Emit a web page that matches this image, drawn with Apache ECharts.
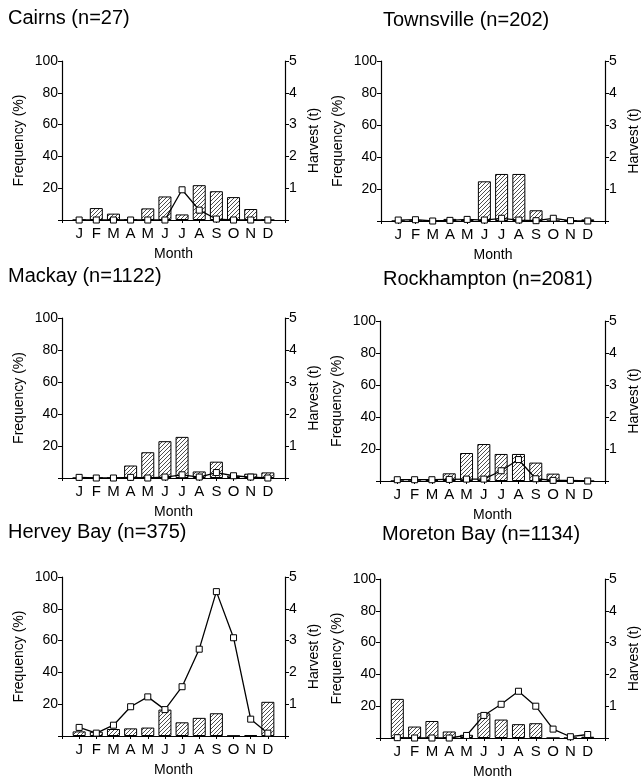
<!DOCTYPE html>
<html>
<head>
<meta charset="utf-8">
<script src="https://cdn.jsdelivr.net/npm/echarts@6/dist/echarts.min.js"></script>
<style>
html,body{margin:0;padding:0;background:#fff;}
#chart{width:643px;height:780px;}
</style>
</head>
<body>
<div id="chart"></div>
<script>
const months = ['J','F','M','A','M','J','J','A','S','O','N','D'];
const siteTitles = ['Cairns (n=27)','Townsville (n=202)','Mackay (n=1122)','Rockhampton (n=2081)','Hervey Bay (n=375)','Moreton Bay (n=1134)'];

const cairnsFreq     = [0, 7.5, 4, 0, 7.3, 14.8, 3.5, 21.9, 18.1, 14.4, 6.9, 0];
const cairnsHarvest  = [0, 0, 0, 0, 0, 0, 0.95, 0.31, 0.03, 0, 0, 0];
const townsvilleFreq    = [0, 0, 0, 1.3, 0.5, 24.8, 29.4, 29.4, 6.7, 0, 0.5, 1];
const townsvilleHarvest = [0.03, 0.04, 0, 0.02, 0.05, 0.03, 0.085, 0.03, 0.01, 0.085, 0.01, 0];
const mackayFreq     = [0, 0, 0, 7.8, 16.1, 23, 25.7, 4.1, 10.2, 1.4, 2.7, 3.5];
const mackayHarvest  = [0.02, 0, 0, 0.02, 0, 0.03, 0.1, 0.03, 0.17, 0.07, 0.03, 0];
const rockhamptonFreq    = [0, 0, 0.5, 4.8, 17.5, 23.1, 16.9, 16.9, 11.5, 4.6, 0.5, 0];
const rockhamptonHarvest = [0.04, 0.04, 0.04, 0.05, 0.06, 0.06, 0.32, 0.67, 0.07, 0.02, 0.02, 0];
const herveyFreq     = [2.9, 2.7, 4.4, 4.8, 5.3, 16.6, 8.6, 11.4, 14.3, 0.2, 0.6, 21.5];
const herveyHarvest  = [0.27, 0.09, 0.34, 0.92, 1.23, 0.83, 1.55, 2.73, 4.54, 3.09, 0.53, 0.09];
const moretonFreq    = [24.6, 7.2, 10.7, 4.1, 2, 15.5, 11.6, 8.7, 9.3, 0, 0, 0.8];
const moretonHarvest = [0.01, 0, 0, 0, 0.08, 0.71, 1.06, 1.47, 1.0, 0.28, 0.04, 0.11];

const freqSets = [cairnsFreq, townsvilleFreq, mackayFreq, rockhamptonFreq, herveyFreq, moretonFreq];
const harvestSets = [cairnsHarvest, townsvilleHarvest, mackayHarvest, rockhamptonHarvest, herveyHarvest, moretonHarvest];

// layout (left, top, width, height) and title positions
const grids = [
  {left:62,  top:61,  width:223, height:159},
  {left:381, top:61,  width:224, height:160},
  {left:62,  top:318, width:223, height:160},
  {left:380, top:321, width:225, height:160},
  {left:62,  top:577, width:223, height:159},
  {left:380, top:579, width:225, height:160}
];
const titlePos = [
  {left:8, top:8}, {left:383, top:10},
  {left:8, top:266}, {left:383, top:269},
  {left:8, top:522}, {left:382, top:524}
];

const FONT = 'Liberation Sans, Arial, Helvetica, sans-serif';

function hatch(){
  const c = document.createElement('canvas');
  c.width = 4; c.height = 4;
  const g = c.getContext('2d');
  g.strokeStyle = '#3a3a3a';
  g.lineWidth = 0.9;
  g.beginPath();
  g.moveTo(0,4); g.lineTo(4,0);
  g.moveTo(-1,1); g.lineTo(1,-1);
  g.moveTo(3,5); g.lineTo(5,3);
  g.stroke();
  return c;
}
const pattern = {image: hatch(), repeat: 'repeat'};

const axisLineStyle = {color:'#000', width:1.2};
const title = [], grid = [], xAxis = [], yAxis = [], series = [];

for (let i = 0; i < 6; i++) {
  title.push({
    text: siteTitles[i], left: titlePos[i].left, top: titlePos[i].top, padding: 0,
    textStyle: {fontFamily: FONT, fontSize: 20, fontWeight: 'normal', color: '#000'}
  });
  grid.push(Object.assign({containLabel:false}, grids[i]));
  xAxis.push({
    gridIndex: i, type: 'value', min: -1, max: 12, interval: 1,
    name: 'Month', nameLocation: 'middle', nameGap: 27,
    nameTextStyle: {fontFamily: FONT, fontSize: 14, color: '#000'},
    axisLine: {show: true, onZero: false, lineStyle: axisLineStyle},
    axisTick: {show: true, length: 3, lineStyle: {color:'#000'}},
    splitLine: {show: false},
    axisLabel: {fontFamily: FONT, fontSize: 15, color: '#000', margin: 6,
      formatter: v => (v >= 0 && v < months.length) ? months[v] : ''}
  });
  yAxis.push({
    gridIndex: i, type: 'value', min: 0, max: 100, interval: 20, position: 'left',
    name: 'Frequency (%)', nameLocation: 'middle', nameGap: 36, nameRotate: 90,
    nameTextStyle: {fontFamily: FONT, fontSize: 14, color: '#000'},
    axisLine: {show: true, onZero: false, lineStyle: axisLineStyle},
    axisTick: {show: true, length: 4, lineStyle: {color:'#000'}},
    splitLine: {show: false},
    axisLabel: {fontFamily: FONT, fontSize: 14, color: '#000', margin: 4,
      formatter: v => v === 0 ? '' : String(v)}
  });
  yAxis.push({
    gridIndex: i, type: 'value', min: 0, max: 5, interval: 1, position: 'right',
    name: 'Harvest (t)', nameLocation: 'middle', nameGap: 22, nameRotate: 90,
    nameTextStyle: {fontFamily: FONT, fontSize: 14, color: '#000'},
    axisLine: {show: true, onZero: false, lineStyle: axisLineStyle},
    axisTick: {show: true, length: 4, lineStyle: {color:'#000'}},
    splitLine: {show: false},
    axisLabel: {fontFamily: FONT, fontSize: 14, color: '#000', margin: 4,
      formatter: v => v === 0 ? '' : String(v)}
  });
  series.push({
    type: 'bar', xAxisIndex: i, yAxisIndex: 2*i, barWidth: 13, z: 2,
    data: freqSets[i].map((v, k) => [k, v]),
    itemStyle: {color: pattern, borderColor: '#000', borderWidth: 1},
    silent: true
  });
  series.push({
    type: 'line', xAxisIndex: i, yAxisIndex: 2*i+1, z: 5,
    data: harvestSets[i].map((v, k) => [k, v]),
    symbol: 'rect', symbolSize: 6, showAllSymbol: true,
    lineStyle: {color: '#000', width: 1.3},
    itemStyle: {color: '#fff', borderColor: '#000', borderWidth: 1},
    silent: true
  });
}

const chart = echarts.init(document.getElementById('chart'), null, {renderer: 'canvas'});
chart.setOption({
  animation: false,
  backgroundColor: '#fff',
  title, grid, xAxis, yAxis, series
});
</script>
</body>
</html>
